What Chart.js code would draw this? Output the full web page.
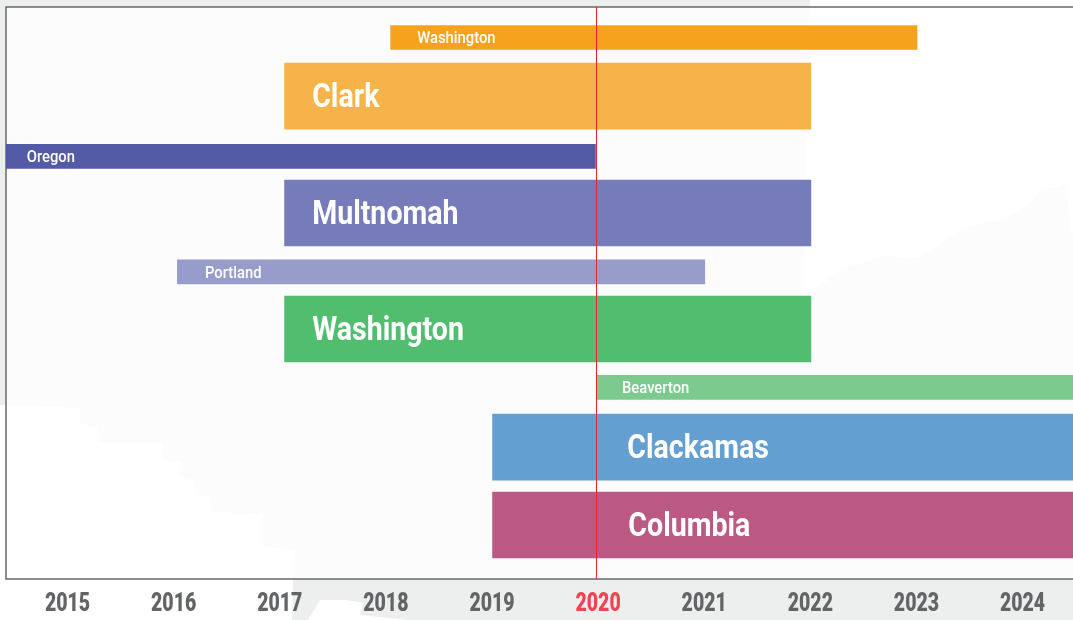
<!DOCTYPE html>
<html><head><meta charset="utf-8">
<style>html,body{margin:0;padding:0;background:#fff}canvas{display:block}</style>
<script src="https://cdn.jsdelivr.net/npm/chart.js@4"></script>
</head><body>
<canvas id="c" width="1073" height="620"></canvas>
<script>
const years = [2015,2016,2017,2018,2019,2020,2021,2022,2023,2024];
const markerYear = 2020;

// Large bars (counties)
const countyNames  = ["Clark","Multnomah","Washington","Clackamas","Columbia"];
const countyStart  = [2017.05,2017.05,2017.05,2019.01,2019.01];
const countyEnd    = [2022.01,2022.01,2022.01,2024.6,2024.6];
const countyRow    = [1.52,3.515,5.495,7.51,8.84];
const countyLabel  = [2017.31,2017.31,2017.31,2020.28,2020.29];
const countyColors = ["#f6b34a","#767cb9","#51bd6f","#649fd2","#bb5884"];

// Thin bars (state / city)
const regionNames  = ["Washington","Oregon","Portland","Beaverton"];
const regionStart  = [2018.05,2014.4,2016.04,2019.995];
const regionEnd    = [2023.01,2019.98,2021.01,2024.6];
const regionRow    = [0.52,2.55,4.52,6.49];
const regionLabel  = [2018.30,2014.62,2016.30,2020.23];
const regionColors = ["#f7a21d","#535aa6","#979cca","#7cca8e"];

const FONT = 'Roboto,"Liberation Sans",sans-serif';
const GREY = "#636466", RED = "#f04453";

// decorative faded map silhouette behind the chart
const mapOutline = [[0,0],[810,0],[806,130],[803,293],[825,282],[847,267],[865,262],[887,255],[905,258],[920,257],[940,245],[960,230],[980,224],[997,222],[1015,213],[1030,203],[1043,188],[1055,188],[1067,183],[1069,227],[1073,235],[1073,620],[407,620],[360,615],[363,603],[347,600],[320,600],[308,620],[292,620],[293,579],[295,550],[262,546],[262,514],[212,512],[211,497],[196,495],[195,480],[182,477],[181,462],[163,460],[163,443],[98,442],[97,428],[80,423],[80,408],[7,405],[0,405]];

// condensed text: the reference face is narrow, so squeeze horizontally
function narrowText(ctx,text,x,y,font,squeeze,align){
  ctx.save();
  ctx.font=font; ctx.textAlign=align; ctx.textBaseline="middle";
  ctx.translate(x,y); ctx.scale(squeeze,1);
  ctx.fillText(text,0,0);
  ctx.restore();
}

const backdrop = {
  id:"backdrop",
  beforeDraw(chart){
    const {ctx,chartArea:a,width,height}=chart;
    ctx.save();
    ctx.fillStyle="#fff"; ctx.fillRect(0,0,width,height);
    ctx.fillStyle="#edefee"; ctx.beginPath();
    mapOutline.forEach(([x,y],i)=> i?ctx.lineTo(x,y):ctx.moveTo(x,y));
    ctx.closePath(); ctx.fill();
    ctx.fillStyle="rgba(255,255,255,0.78)";
    ctx.fillRect(a.left,a.top,a.right-a.left,a.bottom-a.top);
    ctx.strokeStyle="#6a6a6a"; ctx.lineWidth=1.5; ctx.beginPath();
    ctx.moveTo(a.right,a.top); ctx.lineTo(a.left,a.top); ctx.lineTo(a.left,a.bottom); ctx.lineTo(a.right,a.bottom);
    ctx.stroke();
    ctx.restore();
  }
};

const overlay = {
  id:"overlay",
  afterDatasetsDraw(chart){
    const {ctx,chartArea:a,scales:{x,y}}=chart;
    ctx.save();
    ctx.fillStyle="#fff";
    countyNames.forEach((n,i)=>narrowText(ctx,n,x.getPixelForValue(countyLabel[i]),y.getPixelForValue(countyRow[i])+2.5,'bold 34px '+FONT,0.84,"left"));
    regionNames.forEach((n,i)=>narrowText(ctx,n,x.getPixelForValue(regionLabel[i]),y.getPixelForValue(regionRow[i])+1.5,'500 17px '+FONT,0.87,"left"));
    const mx=Math.floor(x.getPixelForValue(markerYear))-0.5;
    ctx.strokeStyle="#f0202f"; ctx.lineWidth=1; ctx.beginPath();
    ctx.moveTo(mx,a.top); ctx.lineTo(mx,a.bottom); ctx.stroke();
    // year labels taken from the axis ticks
    x.ticks.forEach(t=>{
      ctx.fillStyle=t.value===markerYear?RED:GREY;
      narrowText(ctx,String(t.value),x.getPixelForValue(t.value)+0.5,605,'900 25px '+FONT,0.78,"center");
    });
    ctx.restore();
  }
};

const toPoints=(s,e,r)=>s.map((v,i)=>({x:[v,e[i]],y:r[i]}));

new Chart(document.getElementById("c"),{
  type:"bar",
  plugins:[backdrop,overlay],
  data:{datasets:[
    {label:"Counties",data:toPoints(countyStart,countyEnd,countyRow),backgroundColor:countyColors,barThickness:66,grouped:false},
    {label:"Regions",data:toPoints(regionStart,regionEnd,regionRow),backgroundColor:regionColors,barThickness:24,grouped:false}
  ]},
  options:{
    indexAxis:"y",responsive:false,animation:false,
    layout:{padding:{left:6,right:0,top:7,bottom:0}},
    plugins:{legend:{display:false},tooltip:{enabled:false},title:{display:false}},
    scales:{
      y:{type:"linear",display:false,offset:false,reverse:true,min:0,max:9.761,grid:{display:false}},
      x:{type:"linear",min:2014.425,max:2024.48,
        grid:{display:false},border:{display:false},
        afterBuildTicks(ax){ax.ticks=years.map(v=>({value:v}));},
        afterFit(ax){ax.height=41;},
        ticks:{display:false}
      }
    }
  }
});
</script>
</body></html>
